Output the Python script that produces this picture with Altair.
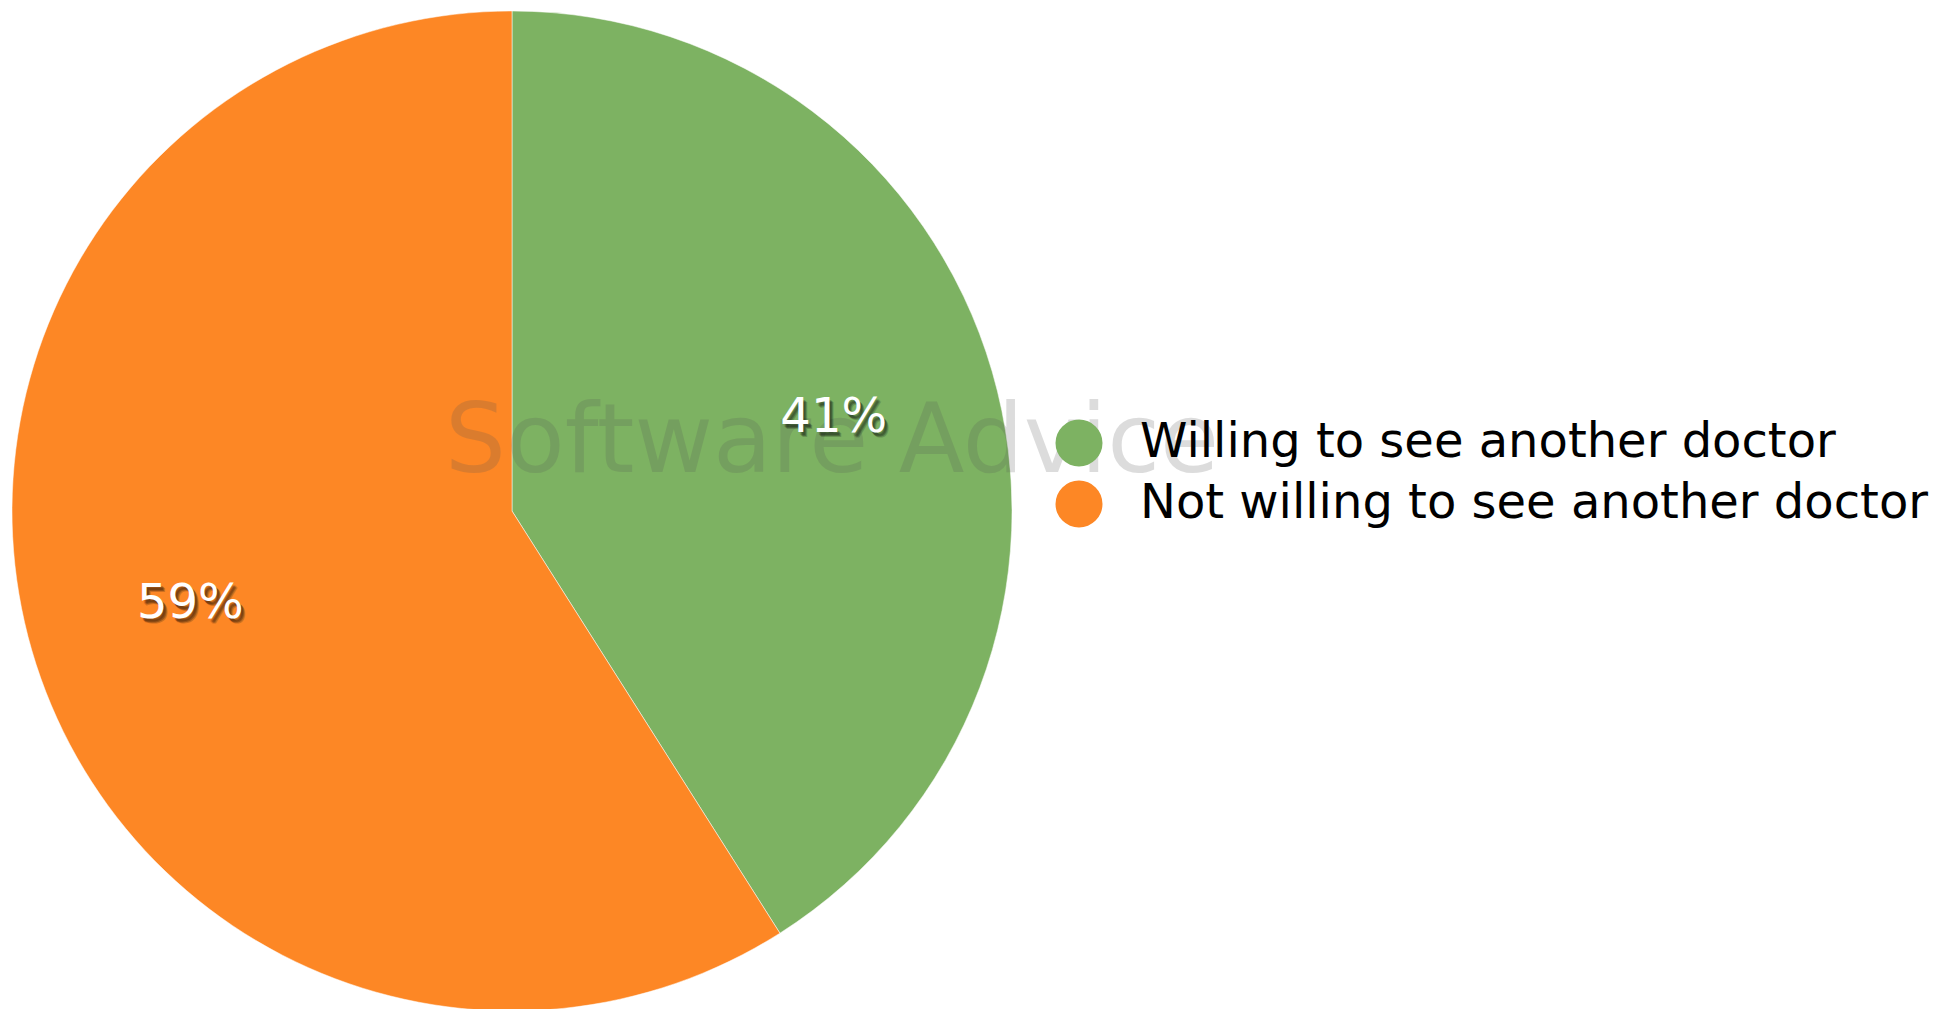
import altair as alt
import pandas as pd

categories = ["Willing to see another doctor", "Not willing to see another doctor"]
values = [41, 59]
labels = ["41%", "59%"]
colors = ["#7DB262", "#FD8725"]
watermark_text = ["Software Advice"]

df = pd.DataFrame({"category": categories, "value": values, "label": labels,
                   "order": [0, 1]})

CX, CY, R = 512, 511, 500

color_scale = alt.Scale(domain=categories, range=colors)

base = alt.Chart(df).encode(
    theta=alt.Theta("value:Q", stack=True),
    order=alt.Order("order:Q"),
    x=alt.value(CX),
    y=alt.value(CY),
)

pie = base.mark_arc(outerRadius=R, stroke="#ffffff", strokeWidth=0.5).encode(
    color=alt.Color(
        "category:N",
        scale=color_scale,
        sort=categories,
        legend=alt.Legend(
            title=None,
            orient="none",
            legendX=1055,
            legendY=419,
            symbolType="circle",
            symbolSize=2209,
            symbolStrokeWidth=0,
            labelFontSize=48,
            labelFont="DejaVu Sans",
            labelColor="#000000",
            labelOffset=37,
            rowPadding=13,
            padding=0,
            labelLimit=1000,
        ),
    )
)

shadow_layers = []
for ddx, ddy, op in [(3, 4, 0.25), (4, 5, 0.18), (2, 3, 0.2)]:
    shadow_layers.append(
        base.mark_text(radius=335, fontSize=48, font="DejaVu Sans",
                       color="#000000", opacity=op, dx=ddx, dy=ddy).encode(
            text="label:N"
        )
    )

txt = base.mark_text(radius=335, fontSize=48, font="DejaVu Sans",
                     color="#ffffff").encode(text="label:N")

wm = alt.Chart(pd.DataFrame({"t": watermark_text})).mark_text(
    fontSize=96, font="DejaVu Sans", color="#555555", opacity=0.2,
    align="center", baseline="alphabetic"
).encode(text="t:N", x=alt.value(832), y=alt.value(472))

chart = alt.layer(pie, wm, *shadow_layers, txt).properties(
    width=1953, height=1009, padding=0,
    autosize=alt.AutoSizeParams(type="none"),
).configure_view(stroke=None)

chart.save("out.html", embed_options={"renderer": "svg", "actions": False})
